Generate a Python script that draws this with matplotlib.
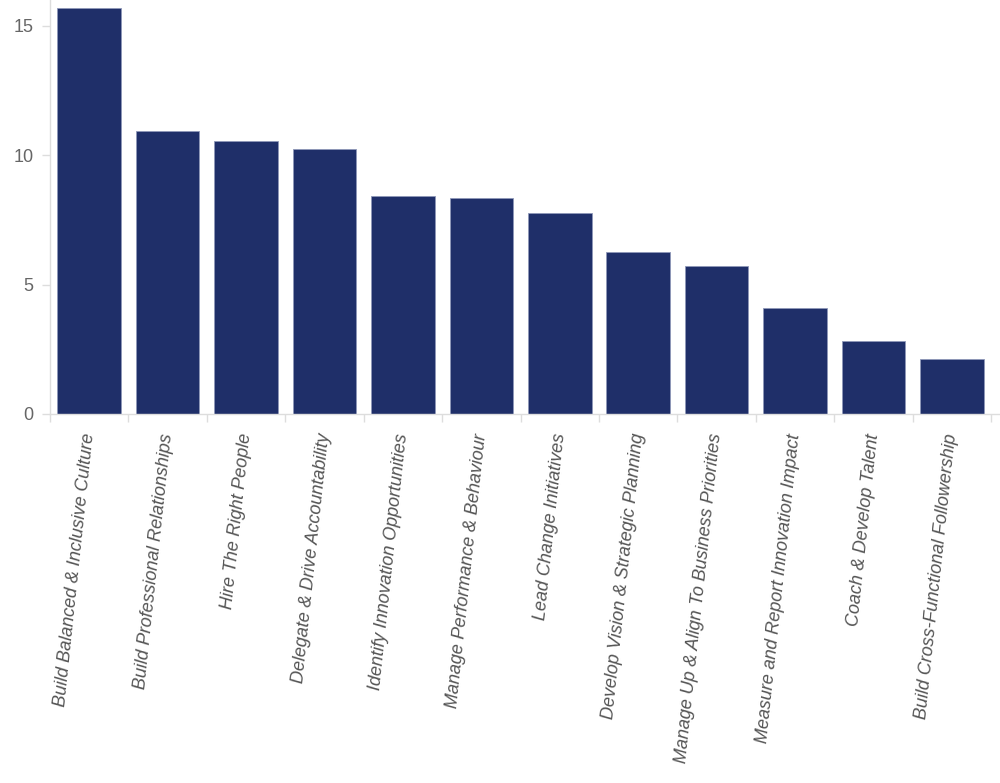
import matplotlib
matplotlib.use("Agg")
import matplotlib.pyplot as plt

categories = [
    "Build Balanced & Inclusive Culture",
    "Build Professional Relationships",
    "Hire The Right People",
    "Delegate & Drive Accountability",
    "Identify Innovation Opportunities",
    "Manage Performance & Behaviour",
    "Lead Change Initiatives",
    "Develop Vision & Strategic Planning",
    "Manage Up & Align To Business Priorities",
    "Measure and Report Innovation Impact",
    "Coach & Develop Talent",
    "Build Cross-Functional Followership",
]
values = [15.7, 10.95, 10.55, 10.25, 8.43, 8.36, 7.76, 6.27, 5.73, 4.11, 2.82, 2.13]
yticks = [0, 5, 10, 15]

W, H = 1000, 783
fig = plt.figure(figsize=(W / 100, H / 100), dpi=100)
ax = fig.add_axes([50 / W, 1 - 414 / H, 949 / W, 414 / H])

x = list(range(len(categories)))
ax.bar(x, values, width=0.81, color="#1f2f69", edgecolor="#8f98b8", linewidth=0.6)

ax.set_xlim(-0.5, len(categories) - 0.5 + 0.1)
ax.set_ylim(0, 16)

ax.set_yticks(yticks)
ax.set_yticklabels([str(t) for t in yticks], fontsize=13, color="#666666", fontfamily="Liberation Sans")
ax.tick_params(axis="y", length=6, width=1, color="#dddddd", pad=6)

# category boundary ticks
ax.set_xticks([i - 0.5 for i in range(len(categories) + 1)], minor=False)
ax.set_xticklabels([])
ax.tick_params(axis="x", which="major", length=6, width=1, color="#dddddd")
ax.set_xticks(x, minor=True)
ax.set_xticklabels(categories, minor=True, rotation=84, ha="right", va="center",
                   rotation_mode="anchor", fontsize=13, color="#555555",
                   fontstyle="italic", fontfamily="Liberation Sans")
ax.tick_params(axis="x", which="minor", length=0, pad=14)

for s in ["top", "right"]:
    ax.spines[s].set_visible(False)
ax.spines["left"].set_color("#dddddd")
ax.spines["bottom"].set_color("#dddddd")
ax.spines["left"].set_linewidth(1)
ax.spines["bottom"].set_linewidth(1)

fig.savefig("out.png", dpi=100)
